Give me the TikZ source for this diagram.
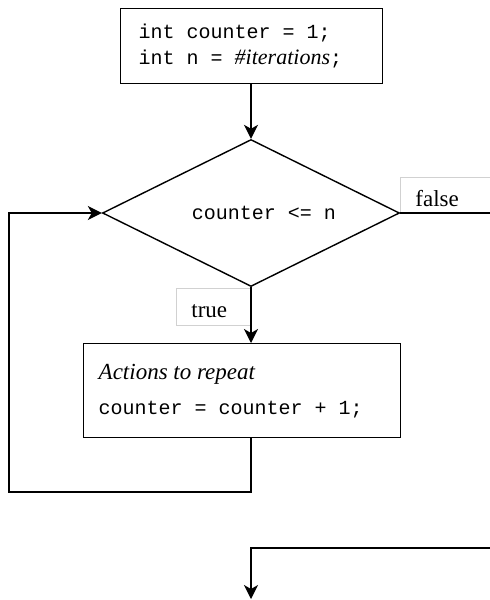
\documentclass[tikz,border=0pt]{standalone}
\usepackage{fontspec}
\setmainfont{Liberation Serif}
\setmonofont{Liberation Mono}
\usetikzlibrary{shapes.geometric,arrows.meta}
\tikzset{
  flow/.style={line width=1.4pt, draw=black},
  arr/.style={flow, -{Stealth[length=14pt,width=14pt,inset=4pt]}},
  procbox/.style={draw=black, line width=1.4pt, rectangle, align=left, inner ysep=0pt},
  decide/.style={draw=black, line width=1.4pt, diamond, inner sep=0pt, aspect=2,
     minimum width=297pt, minimum height=147pt, font=\ttfamily\fontsize{20}{24}\selectfont},
  lblbox/.style={draw=black!18, line width=0.8pt, rectangle, align=left, inner ysep=0pt,
     inner xsep=15pt, text depth=0pt, font=\fontsize{23}{26}\selectfont},
}
\begin{document}
\begin{tikzpicture}[x=1pt,y=-1pt]
\useasboundingbox (0,0) rectangle (490,600);

% label boxes (behind)
\node[lblbox, anchor=north west, text width=60pt, minimum height=36pt, text height=22pt] (falselbl) at (400,177) {false};
\node[lblbox, anchor=north west, text width=44pt, minimum height=37pt, text height=21pt] (truelbl) at (176,288) {true};

% init box
\node[procbox, anchor=north west, inner xsep=18pt, text width=226pt, minimum height=75pt,
      font=\ttfamily\fontsize{20}{26}\selectfont] (init) at (120,8)
  {\spaceskip=0pt\xspaceskip=0pt int counter = 1;\\int n = {\rmfamily\itshape\fontsize{22}{26}\selectfont\#iterations};};

% decision
\node[decide] (cond) at (251,213) {\hspace*{26pt}counter <= n};

% action box
\node[procbox, anchor=north west, inner xsep=15pt, text width=287pt, minimum height=94pt,
      font=\ttfamily\fontsize{20}{35}\selectfont] (action) at (83,343)
  {\spaceskip=0pt\xspaceskip=0pt {\rmfamily\itshape\fontsize{23}{35}\selectfont Actions to repeat}\\counter = counter + 1;};

\coordinate (falseend) at (490,213);
\coordinate (loopcorner) at (9,492);
\coordinate (exitstart) at (490,548);
\coordinate (exitend) at (251,599);

\draw[arr] (init.south -| cond.north) -- (cond.north);
\draw[arr] (cond.south) -- (cond.south |- action.north);
\draw[flow] (cond.east) -- (falseend);
\draw[arr] (action.south -| cond.south) |- (loopcorner) |- (cond.west);
\draw[arr] (exitstart) -| (exitend);
\end{tikzpicture}
\end{document}
